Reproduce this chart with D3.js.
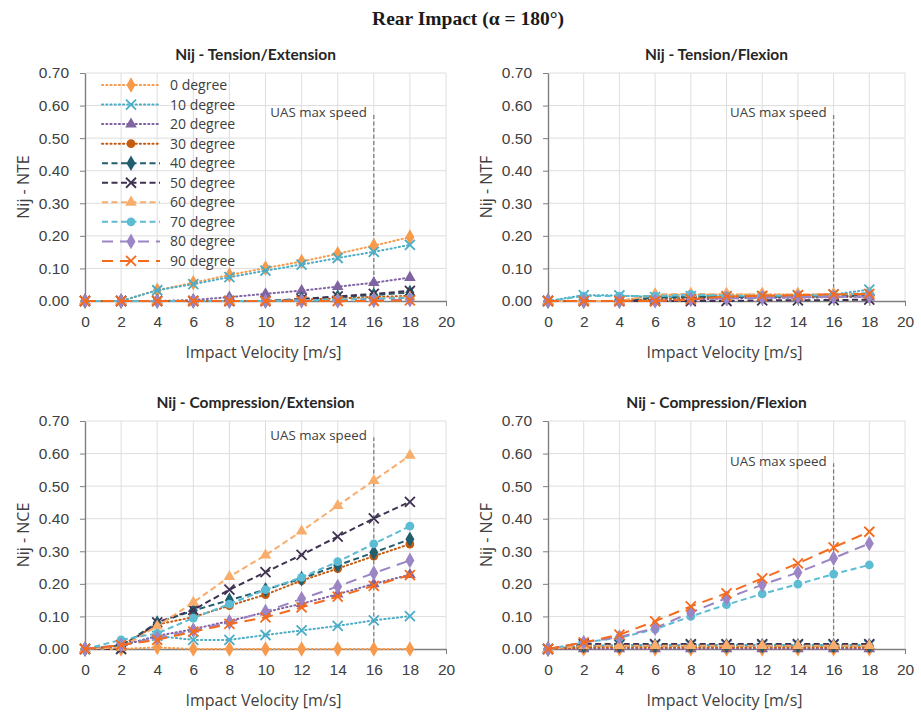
<!DOCTYPE html>
<html lang="en">
<head>
<meta charset="UTF-8">
<title>Rear Impact</title>
<script src="https://d3js.org/d3.v7.min.js"></script>
<style>
    body { margin: 0; background: #fff; }
    svg { font-family: "Open Sans", "Liberation Sans", sans-serif; }
    .tick text { fill: #404040; font-size: 15.5px; }
    .tick line, .domain { stroke: #7f7f7f; }
    .grid line { stroke: #dedede; stroke-width: 1; }
    .ptitle { font-family: Lato, "Open Sans", sans-serif; font-weight: bold; font-size: 15.5px; fill: #262626; text-anchor: middle; }
    .alabel { font-size: 16px; fill: #404040; text-anchor: middle; }
    .uas { font-size: 13.3px; fill: #404040; text-anchor: end; }
</style>
</head>
<body>
<svg id="chart" width="921" height="714"></svg>
<script>
// impact velocities [m/s]
var velocities = [0, 2, 4, 6, 8, 10, 12, 14, 16, 18];
var seriesNames = ["0 degree", "10 degree", "20 degree", "30 degree", "40 degree",
                   "50 degree", "60 degree", "70 degree", "80 degree", "90 degree"];
var xTicks = [0, 2, 4, 6, 8, 10, 12, 14, 16, 18, 20];
var yTicks = [0, 0.1, 0.2, 0.3, 0.4, 0.5, 0.6, 0.7];
var panelTitles = ["Nij - Tension/Extension", "Nij - Tension/Flexion",
                   "Nij - Compression/Extension", "Nij - Compression/Flexion"];
var yLabels = ["Nij - NTE", "Nij - NTF", "Nij - NCE", "Nij - NCF"];
var uasSpeed = 16;
var uasTop = [0.575, 0.575, 0.65, 0.57];

// one row per angle, one value per velocity
var nteValues = [
    [0, 0, 0.033, 0.056, 0.080, 0.101, 0.121, 0.145, 0.170, 0.196],
    [0, 0, 0.033, 0.052, 0.073, 0.093, 0.112, 0.132, 0.151, 0.172],
    [0, 0, 0, 0.003, 0.012, 0.022, 0.032, 0.044, 0.056, 0.072],
    [0, 0, 0, 0, 0, 0, 0.004, 0.008, 0.012, 0.016],
    [0, 0, 0, 0, 0, 0, 0.006, 0.012, 0.018, 0.026],
    [0, 0, 0, 0, 0, 0, 0.006, 0.014, 0.022, 0.031],
    [0, 0, 0, 0, 0, 0, 0.002, 0.005, 0.008, 0.012],
    [0, 0, 0, 0, 0, 0, 0.002, 0.004, 0.007, 0.010],
    [0, 0, 0, 0, 0, 0, 0, 0, 0.002, 0.004],
    [0, 0, 0, 0, 0, 0, 0, 0, 0, 0.002]
];
var ntfValues = [
    [0, 0, 0, 0.018, 0.020, 0.020, 0.020, 0.020, 0.020, 0.022],
    [0, 0.018, 0.017, 0.012, 0.015, 0.015, 0.015, 0.017, 0.020, 0.035],
    [0, 0, 0, 0, 0.005, 0.008, 0.010, 0.010, 0.012, 0.012],
    [0, 0, 0, 0.005, 0.010, 0.012, 0.012, 0.012, 0.014, 0.015],
    [0, 0, 0, 0.010, 0.012, 0.012, 0.013, 0.014, 0.015, 0.016],
    [0, 0, 0, 0, 0, 0, 0.002, 0.002, 0.003, 0.004],
    [0, 0, 0, 0.020, 0.022, 0.020, 0.020, 0.020, 0.021, 0.022],
    [0, 0.015, 0.015, 0.015, 0.020, 0.016, 0.016, 0.016, 0.018, 0.025],
    [0, 0, 0, 0, 0.005, 0.008, 0.010, 0.012, 0.012, 0.014],
    [0, 0, 0, 0, 0.005, 0.014, 0.016, 0.018, 0.020, 0.022]
];
var nceValues = [
    [0, 0, 0.005, 0, 0, 0, 0, 0, 0, 0],
    [0, 0.010, 0.040, 0.028, 0.028, 0.043, 0.057, 0.071, 0.088, 0.101],
    [0, 0.010, 0.040, 0.061, 0.086, 0.113, 0.139, 0.168, 0.200, 0.228],
    [0, 0.010, 0.075, 0.098, 0.133, 0.167, 0.210, 0.247, 0.285, 0.322],
    [0, 0.010, 0.080, 0.118, 0.150, 0.182, 0.216, 0.257, 0.296, 0.337],
    [0, 0, 0.082, 0.120, 0.182, 0.236, 0.289, 0.345, 0.401, 0.452],
    [0, 0.005, 0.070, 0.143, 0.222, 0.288, 0.362, 0.440, 0.517, 0.594],
    [0, 0.028, 0.048, 0.095, 0.138, 0.182, 0.220, 0.268, 0.323, 0.377],
    [0, 0.012, 0.034, 0.057, 0.082, 0.115, 0.154, 0.192, 0.233, 0.272],
    [0, 0.012, 0.028, 0.053, 0.077, 0.097, 0.128, 0.161, 0.194, 0.227]
];
var ncfValues = [
    [0, 0, 0, 0, 0, 0, 0, 0, 0, 0],
    [0, 0.010, 0.012, 0.012, 0.012, 0.012, 0.012, 0.012, 0.012, 0.012],
    [0, 0, 0, 0, 0, 0, 0, 0, 0, 0],
    [0, 0.005, 0.005, 0.005, 0.005, 0.005, 0.005, 0.005, 0.005, 0.005],
    [0, 0.010, 0.010, 0.010, 0.010, 0.010, 0.010, 0.010, 0.010, 0.010],
    [0, 0.015, 0.015, 0.015, 0.015, 0.015, 0.015, 0.015, 0.015, 0.015],
    [0, 0.010, 0.010, 0.010, 0.010, 0.010, 0.010, 0.010, 0.010, 0.010],
    [0, 0.020, 0.034, 0.061, 0.100, 0.136, 0.169, 0.199, 0.230, 0.258],
    [0, 0.020, 0.037, 0.064, 0.112, 0.156, 0.197, 0.235, 0.279, 0.324],
    [0, 0.020, 0.044, 0.085, 0.131, 0.171, 0.217, 0.263, 0.312, 0.360]
];

// series styles
var colors = ["#f79a4b", "#4bacc6", "#8064a2", "#c55a11", "#215e6e",
              "#3f3151", "#f9ad6c", "#5cbcd4", "#9b85c4", "#f56b1e"];
var dashes = ["1.2,3", "1.2,3", "1.2,3", "1.2,3", "6,3.5",
              "6,3.5", "6,3.5", "6,3.5", "11,7", "11,7"];
var markers = ["diamond", "x", "triangle", "circle", "diamond",
               "x", "triangle", "circle", "diamond", "x"];

var panels = [
    {values: nteValues, left: 85, right: 446, top: 73, bottom: 301},
    {values: ntfValues, left: 548, right: 905, top: 73, bottom: 301},
    {values: nceValues, left: 85, right: 446, top: 421, bottom: 649},
    {values: ncfValues, left: 548, right: 905, top: 421, bottom: 649}
];

var svg = d3.select("#chart");

svg.append("text")
    .attr("x", 468)
    .attr("y", 25)
    .attr("text-anchor", "middle")
    .style("font-family", "'Liberation Serif', serif")
    .style("font-weight", "bold")
    .style("font-size", "19.5px")
    .attr("fill", "#1a1a1a")
    .text("Rear Impact (\u03b1 = 180\u00b0)");

function drawMarker(g, type, color) {
    if (type == "x") {
        g.append("path")
            .attr("d", "M-5,-5L5,5M-5,5L5,-5")
            .attr("stroke", color)
            .attr("stroke-width", 1.8)
            .attr("fill", "none");
    } else {
        var sym = {diamond: d3.symbolDiamond, triangle: d3.symbolTriangle, circle: d3.symbolCircle}[type];
        var size = {diamond: 70, triangle: 58, circle: 60}[type];
        g.append("path")
            .attr("d", d3.symbol().type(sym).size(size)())
            .attr("fill", color);
    }
}

panels.forEach(function(p, pi) {
    var x = d3.scaleLinear().domain([0, 20]).range([p.left, p.right]);
    var y = d3.scaleLinear().domain([0, 0.7]).range([p.bottom, p.top]);
    var g = svg.append("g");

    // gridlines
    var grid = g.append("g").attr("class", "grid");
    grid.selectAll(".h").data(yTicks.slice(1)).enter().append("line")
        .attr("x1", x(0)).attr("x2", x(20))
        .attr("y1", d => y(d)).attr("y2", d => y(d));
    grid.selectAll(".v").data(xTicks.slice(1)).enter().append("line")
        .attr("x1", d => x(d)).attr("x2", d => x(d))
        .attr("y1", y(0)).attr("y2", y(0.7));

    g.append("g")
        .attr("transform", "translate(" + x(0) + ",0)")
        .call(d3.axisLeft(y).tickValues(yTicks).tickSize(5).tickSizeOuter(0).tickPadding(11)
            .tickFormat(d3.format(".2f")));

    g.append("g")
        .attr("transform", "translate(0," + y(0) + ")")
        .call(d3.axisBottom(x).tickValues(xTicks).tickSize(5).tickSizeOuter(0).tickPadding(10));

    g.selectAll(".domain").attr("stroke-width", 1.4);

    // UAS max speed marker
    g.append("line")
        .attr("x1", x(uasSpeed)).attr("x2", x(uasSpeed))
        .attr("y1", y(0)).attr("y2", y(uasTop[pi]))
        .attr("stroke", "#7f7f7f")
        .attr("stroke-width", 1.3)
        .attr("stroke-dasharray", "4,2.5");
    g.append("text")
        .attr("class", "uas")
        .attr("x", x(uasSpeed) - 7)
        .attr("y", y(uasTop[pi]) + 3)
        .text("UAS max speed");

    // series
    var line = d3.line()
        .x((d, i) => x(velocities[i]))
        .y(d => y(d));

    p.values.forEach(function(vals, si) {
        g.append("path")
            .attr("d", line(vals))
            .attr("fill", "none")
            .attr("stroke", colors[si])
            .attr("stroke-width", 2)
            .attr("stroke-linecap", si < 4 ? "round" : "butt")
            .attr("stroke-dasharray", dashes[si]);
        vals.forEach(function(v, i) {
            var mg = g.append("g").attr("transform", "translate(" + x(velocities[i]) + "," + y(v) + ")");
            drawMarker(mg, markers[si], colors[si]);
        });
    });

    g.append("text")
        .attr("class", "ptitle")
        .attr("x", (p.left + p.right) / 2 - 10)
        .attr("y", p.top - 13)
        .text(panelTitles[pi]);

    g.append("text")
        .attr("class", "alabel")
        .attr("x", (p.left + p.right) / 2 - 2)
        .attr("y", p.bottom + 57)
        .text("Impact Velocity [m/s]");

    g.append("text")
        .attr("class", "alabel")
        .attr("transform", "translate(" + (p.left - 56) + "," + ((p.top + p.bottom) / 2) + ") rotate(-90)")
        .text(yLabels[pi]);
});

// legend (top-left panel)
var legend = svg.append("g");
seriesNames.forEach(function(name, si) {
    var ly = 85 + si * 19.55;
    legend.append("line")
        .attr("x1", 102).attr("x2", 160)
        .attr("y1", ly).attr("y2", ly)
        .attr("stroke", colors[si])
        .attr("stroke-width", 2)
        .attr("stroke-linecap", si < 4 ? "round" : "butt")
        .attr("stroke-dasharray", dashes[si]);
    var mg = legend.append("g").attr("transform", "translate(131," + ly + ")");
    drawMarker(mg, markers[si], colors[si]);
    legend.append("text")
        .attr("x", 170).attr("y", ly + 5)
        .attr("fill", "#404040")
        .style("font-size", "14px")
        .text(name);
});
</script>
</body>
</html>
